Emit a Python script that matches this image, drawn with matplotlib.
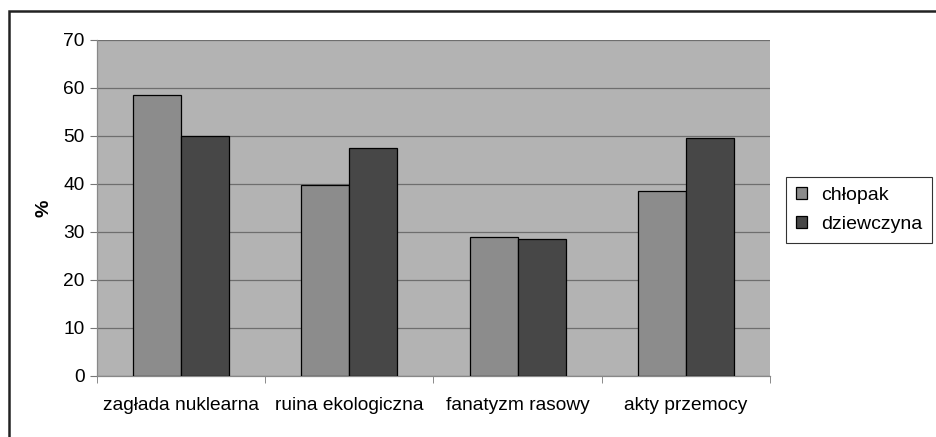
import matplotlib
matplotlib.use("Agg")
import matplotlib.pyplot as plt
import numpy as np
from matplotlib.patches import Rectangle

plt.rcParams['font.family'] = ['Liberation Sans', 'DejaVu Sans']

categories = ["zagłada nuklearna", "ruina ekologiczna", "fanatyzm rasowy", "akty przemocy"]
series_names = ["chłopak", "dziewczyna"]
chlopak = [58.5, 39.8, 29.0, 38.6]
dziewczyna = [50.0, 47.6, 28.6, 49.5]
yticks = [0, 10, 20, 30, 40, 50, 60, 70]

colors = ["#8c8c8c", "#474747"]

fig = plt.figure(figsize=(9.37, 4.37), dpi=100)
ax = fig.add_axes([97/937, 1-376/437, (770-97)/937, (376-40)/437])
ax.set_facecolor("#b3b3b3")

x = np.arange(len(categories))
w = 0.286
ax.bar(x - w/2, chlopak, w, color=colors[0], edgecolor="black", linewidth=0.9, label=series_names[0], zorder=3)
ax.bar(x + w/2, dziewczyna, w, color=colors[1], edgecolor="black", linewidth=0.9, label=series_names[1], zorder=3)

ax.set_xlim(-0.5, len(categories) - 0.5)
ax.set_ylim(0, 70)
ax.set_yticks(yticks)
ax.yaxis.grid(True, color="#6e6e6e", linewidth=0.9, zorder=1)
ax.set_axisbelow(True)

ax.set_xticks(x)
ax.set_xticklabels(categories, fontsize=13.8)
ax.tick_params(axis='x', which='major', length=0, pad=15)
ax.set_xticks(np.arange(-0.5, len(categories), 1.0), minor=True)
ax.tick_params(axis='x', which='minor', length=5, color="#777777", direction='out')
ax.tick_params(axis='y', labelsize=13.8, length=5, color="#777777", pad=4)

for s in ["top", "right"]:
    ax.spines[s].set_visible(False)
for s in ["left", "bottom"]:
    ax.spines[s].set_color("#888888")
    ax.spines[s].set_linewidth(0.9)

ax.set_ylabel("%", fontsize=14, fontweight="bold", labelpad=8)

leg = ax.legend(loc="center left", bbox_to_anchor=(786/937, 1-210/437), bbox_transform=fig.transFigure,
                frameon=True, fancybox=False, fontsize=14, handlelength=0.6, handleheight=0.6,
                handletextpad=0.7, borderpad=0.5, labelspacing=0.6, borderaxespad=0)
leg.get_frame().set_edgecolor("black")
leg.get_frame().set_linewidth(0.8)

# outer frame
fig.patches.append(Rectangle((9/937, -0.1), 1.2, 1 - 11/437 + 0.1, transform=fig.transFigure,
                             fill=False, edgecolor="#222222", linewidth=1.8))

fig.savefig("out.png", dpi=100)
